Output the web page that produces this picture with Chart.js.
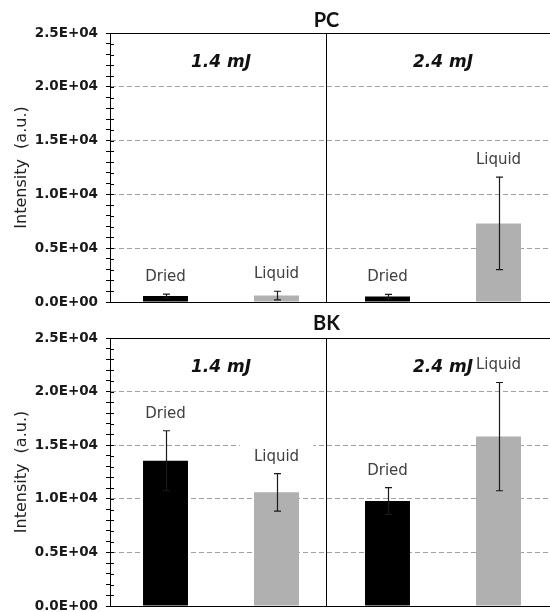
<!DOCTYPE html>
<html>
<head>
<meta charset="utf-8">
<script src="https://cdn.jsdelivr.net/npm/chart.js@4.4.0/dist/chart.umd.min.js"></script>
<style>
  html, body { margin: 0; padding: 0; background: #fff; overflow: hidden; }
  .panel { position: absolute; left: 0; width: 555px; height: 306px; }
  #panel-pc { top: 0; }
  #panel-bk { top: 306px; }
</style>
</head>
<body>
<div class="panel" id="panel-pc"><canvas id="chartPC"></canvas></div>
<div class="panel" id="panel-bk"><canvas id="chartBK"></canvas></div>
<script>
// --- DATA ---
const categories = ['Dried', 'Liquid', 'Dried', 'Liquid'];
const energyLabels = ['1.4 mJ', '2.4 mJ'];
const pcValues = [550, 600, 500, 7300];
const pcErrors = [180, 400, 200, 4300];
const bkValues = [13550, 10600, 9800, 15800];
const bkErrors = [2800, 1750, 1250, 5050];
const yTickLabels = ['0.0E+00', '0.5E+04', '1.0E+04', '1.5E+04', '2.0E+04', '2.5E+04'];
const yMax = 25000;
const yMajorStep = 5000;
const yMinorStep = 1000;

// --- STYLE ---
const barColors = ['#000000', '#b0b0b0', '#000000', '#b0b0b0'];
const dividerAt = 1.45;   // vertical line between the two energies, in category units

function isMajor(v) {
    return v % yMajorStep === 0;
}

// --- DECORATIONS: border, divider, error bars, labels ---
const panelDecor = {
    id: 'panelDecor',
    beforeDatasetsDraw(chart, args, opts) {
        // white boxes behind the bar labels (they hide the grid lines)
        const ctx = chart.ctx;
        const x = chart.scales.x;
        const y = chart.scales.y;
        ctx.save();
        ctx.font = '15px "DejaVu Sans"';
        ctx.fillStyle = '#ffffff';
        categories.forEach((c, i) => {
            const top = y.getPixelForValue(opts.values[i] + opts.errors[i]);
            const w = ctx.measureText(c).width + 28;
            const base = top - 13;
            ctx.fillRect(x.getPixelForValue(i) - w / 2, base - 17, w, 24);
        });
        ctx.restore();
    },
    afterDatasetsDraw(chart, args, opts) {
        const ctx = chart.ctx;
        const area = chart.chartArea;
        const x = chart.scales.x;
        const y = chart.scales.y;
        ctx.save();

        // top border + divider
        ctx.strokeStyle = '#000000';
        ctx.lineWidth = 1;
        ctx.beginPath();
        const top = Math.round(area.top) + 0.5;
        ctx.moveTo(area.left, top);
        ctx.lineTo(area.right, top);
        const dx = Math.round(x.getPixelForValue(dividerAt)) + 0.5;
        ctx.moveTo(dx, area.top);
        ctx.lineTo(dx, area.bottom);
        ctx.stroke();

        // inner half of the y tick marks
        ctx.beginPath();
        y.ticks.forEach(t => {
            const ty = Math.round(y.getPixelForValue(t.value)) + 0.5;
            ctx.moveTo(area.left, ty);
            ctx.lineTo(area.left + 4, ty);
        });
        ctx.stroke();

        // error bars
        ctx.strokeStyle = '#1a1a1a';
        ctx.lineWidth = 1.2;
        ctx.beginPath();
        categories.forEach((c, i) => {
            const cx = Math.round(x.getPixelForValue(i)) + 0.5;
            const y1 = y.getPixelForValue(opts.values[i] + opts.errors[i]);
            const y2 = y.getPixelForValue(Math.max(0, opts.values[i] - opts.errors[i]));
            ctx.moveTo(cx, y1);
            ctx.lineTo(cx, y2);
            ctx.moveTo(cx - 3.5, y1);
            ctx.lineTo(cx + 3.5, y1);
            ctx.moveTo(cx - 3.5, y2);
            ctx.lineTo(cx + 3.5, y2);
        });
        ctx.stroke();

        // bar labels
        ctx.font = '15px "DejaVu Sans"';
        ctx.fillStyle = '#404040';
        ctx.textAlign = 'center';
        ctx.textBaseline = 'alphabetic';
        categories.forEach((c, i) => {
            const topY = y.getPixelForValue(opts.values[i] + opts.errors[i]);
            ctx.fillText(c, x.getPixelForValue(i), topY - 13);
        });

        // energy labels
        ctx.font = 'italic bold 17px "DejaVu Sans"';
        ctx.fillStyle = '#111111';
        energyLabels.forEach((e, k) => {
            const ex = (x.getPixelForValue(2 * k) + x.getPixelForValue(2 * k + 1)) / 2;
            ctx.fillText(e, ex, area.top + 34);
        });

        // panel title
        ctx.font = 'bold 20px Lato';
        ctx.fillStyle = '#111111';
        ctx.fillText(opts.title, dx, opts.titleY);

        ctx.restore();
    }
};

// --- CHART ---
function makeChart(canvasId, title, values, errors, padTop, padBottom, titleY) {
    const ctx = document.getElementById(canvasId).getContext('2d');
    return new Chart(ctx, {
        type: 'bar',
        data: {
            labels: categories,
            datasets: [{
                data: values,
                backgroundColor: barColors,
                borderWidth: 0,
                barPercentage: 0.405,
                categoryPercentage: 1
            }]
        },
        options: {
            responsive: true,
            maintainAspectRatio: false,
            animation: false,
            layout: { padding: { top: padTop, bottom: padBottom, left: 0, right: 1 } },
            scales: {
                x: {
                    ticks: { display: false },
                    grid: { display: false, drawTicks: false },
                    border: { display: true, color: '#000000', width: 1 },
                    afterFit: (scale) => { scale.height = 0; }
                },
                y: {
                    min: 0,
                    max: yMax,
                    afterFit: (scale) => {
                        scale.width = 110;
                        scale.paddingTop = 0;
                        scale.paddingBottom = 0;
                    },
                    ticks: {
                        stepSize: yMinorStep,
                        autoSkip: false,
                        padding: 8,
                        color: '#1a1a1a',
                        font: { family: 'DejaVu Sans', size: 13.5, weight: 'bold' },
                        callback: (v) => isMajor(v) ? yTickLabels[v / yMajorStep] : ''
                    },
                    grid: {
                        color: (c) => (c.tick && isMajor(c.tick.value) && c.tick.value > 0 && c.tick.value < yMax) ? '#a0a0a0' : 'rgba(0,0,0,0)',
                        tickColor: '#000000',
                        tickLength: 4,
                        lineWidth: 1
                    },
                    border: { display: true, color: '#000000', width: 1, dash: [5, 3] },
                    title: {
                        display: true,
                        text: 'Intensity  (a.u.)',
                        color: '#222222',
                        font: { family: 'DejaVu Sans', size: 16 },
                        padding: { top: 12, bottom: 0 }
                    }
                }
            },
            plugins: {
                legend: { display: false },
                tooltip: { enabled: false },
                panelDecor: { title: title, values: values, errors: errors, titleY: titleY }
            }
        },
        plugins: [panelDecor]
    });
}

makeChart('chartPC', 'PC', pcValues, pcErrors, 33, 4, 27);
makeChart('chartBK', 'BK', bkValues, bkErrors, 32, 6, 24);
</script>
</body>
</html>
